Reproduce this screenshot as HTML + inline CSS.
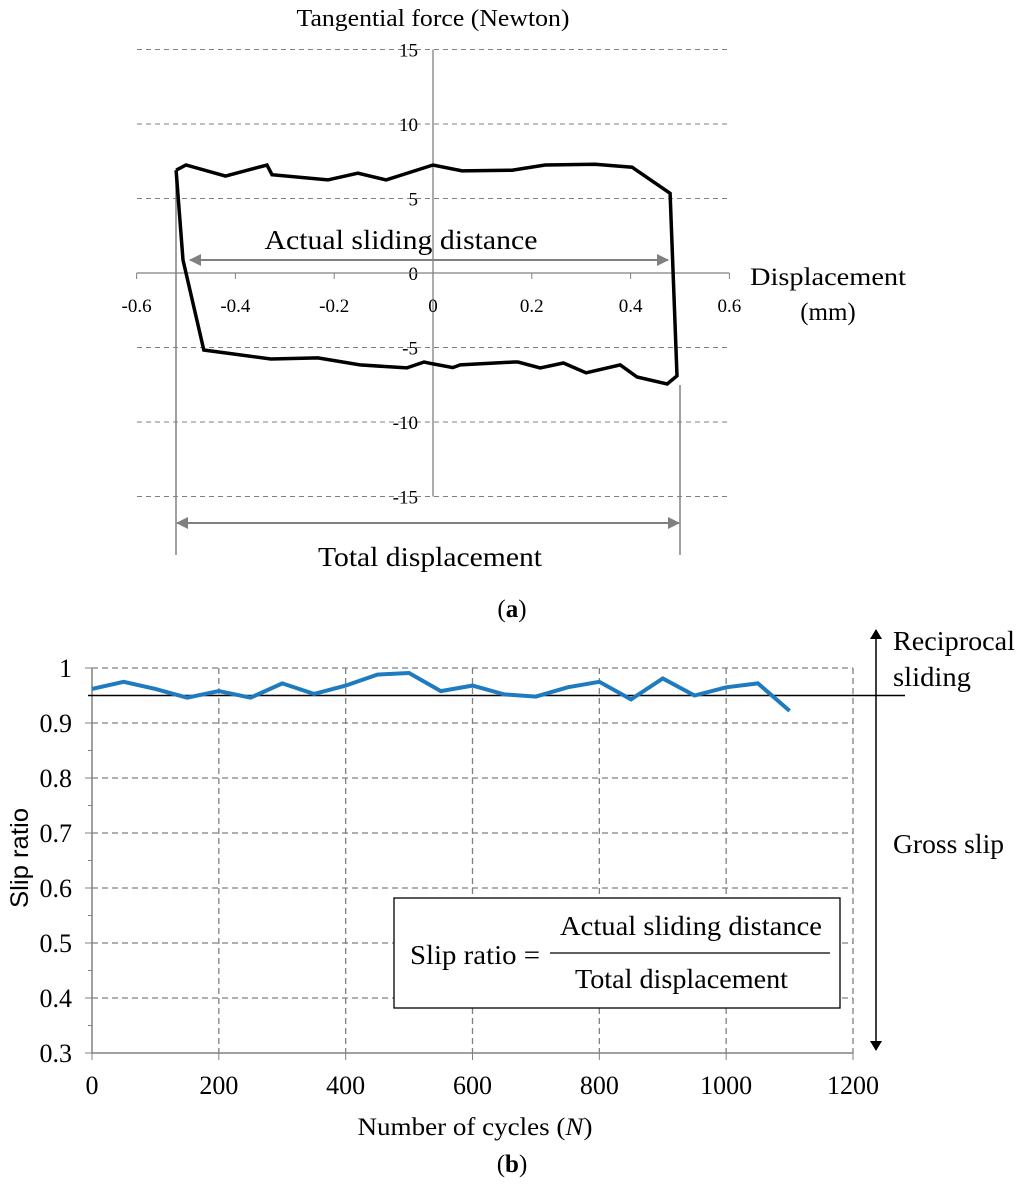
<!DOCTYPE html>
<html><head><meta charset="utf-8">
<style>
body{margin:0;background:#fff;}
svg{display:block;font-family:"Liberation Serif",serif;}
</style></head>
<body>
<svg id="chart" width="1024" height="1185" viewBox="0 0 1024 1185" xmlns="http://www.w3.org/2000/svg">
<defs>
<marker id="ga" markerWidth="12" markerHeight="12" refX="11" refY="6" orient="auto-start-reverse" markerUnits="userSpaceOnUse"><path d="M0,0 L12,6 L0,12 z" fill="#808080"/></marker>
<marker id="ka" markerWidth="10" markerHeight="12" refX="9" refY="6" orient="auto-start-reverse" markerUnits="userSpaceOnUse"><path d="M0,0 L10,6 L0,12 z" fill="#000"/></marker>
</defs>
<g id="a"></g>
<g id="b"></g>
</svg>
<script>
// ---- chart (a) data ----
const loopX = [-0.52,-0.50,-0.42,-0.336,-0.326,-0.213,-0.152,-0.095,0,0.059,0.16,0.227,0.328,0.403,0.48,0.494,0.474,0.413,0.379,0.31,0.264,0.217,0.172,0.164,0.055,0.04,0,-0.018,-0.053,-0.148,-0.233,-0.328,-0.464,-0.506,-0.52];
const loopY = [6.9,7.25,6.5,7.25,6.6,6.25,6.7,6.25,7.25,6.85,6.9,7.25,7.3,7.1,5.35,-6.9,-7.45,-6.98,-6.17,-6.7,-6.04,-6.37,-5.97,-5.97,-6.17,-6.35,-6.1,-5.97,-6.37,-6.17,-5.7,-5.77,-5.17,0.87,6.9];
const aXTicks = [-0.6,-0.4,-0.2,0,0.2,0.4,0.6];
const aYTicks = [15,10,5,0,-5,-10,-15];
// ---- chart (b) data ----
const cycles = [0,50,100,150,200,250,300,350,400,450,500,550,600,650,700,750,800,850,900,950,1000,1050,1100];
const slip = [0.962,0.975,0.962,0.946,0.958,0.946,0.972,0.953,0.968,0.988,0.991,0.958,0.968,0.952,0.948,0.965,0.975,0.943,0.981,0.950,0.965,0.972,0.922];
const bXTicks = [0,200,400,600,800,1000,1200];
const bYTicks = [1,0.9,0.8,0.7,0.6,0.5,0.4,0.3];
const threshold = 0.95;

const NS="http://www.w3.org/2000/svg";
function mk(parent,tag,attrs,text){const e=document.createElementNS(NS,tag);for(const k in attrs)e.setAttribute(k,attrs[k]);if(text!==undefined)e.textContent=text;parent.appendChild(e);return e;}
function fit(e,len){e.setAttribute('textLength',len);e.setAttribute('lengthAdjust','spacingAndGlyphs');}

// chart a
const ga=document.getElementById('a');
const ax=v=>433+v*494, ay=v=>273-v*14.9;
aYTicks.forEach(t=>{
  if(t!==0){const l=mk(ga,'line',{x1:137,x2:730,y1:ay(t),y2:ay(t),stroke:'#808080','stroke-dasharray':'5,4','stroke-width':1});
  
  }
  const tx=mk(ga,'text',{x:418,y:ay(t)+7,'text-anchor':'end','font-size':19},String(t));
  
  
});
let l=mk(ga,'line',{x1:433,x2:433,y1:ay(15),y2:ay(-15),stroke:'#808080','stroke-width':1.3});


l=mk(ga,'line',{x1:ax(-0.6),x2:ax(0.6),y1:273,y2:273,stroke:'#808080','stroke-width':1.3});


aXTicks.forEach(t=>{
  const tk=mk(ga,'line',{x1:ax(t),x2:ax(t),y1:273,y2:279,stroke:'#808080'});
  
  
  const tx=mk(ga,'text',{x:ax(t),y:312,'text-anchor':'middle','font-size':19},String(t));
  
  
});
let t=mk(ga,'text',{x:433,y:26,'text-anchor':'middle','font-size':24},'Tangential force (Newton)');
fit(t,273);


t=mk(ga,'text',{x:828,y:285,'text-anchor':'middle','font-size':25},'Displacement');
fit(t,156);


t=mk(ga,'text',{x:828,y:320,'text-anchor':'middle','font-size':25},'(mm)');


// guide lines
l=mk(ga,'line',{x1:176,x2:176,y1:170,y2:555,stroke:'#808080','stroke-width':1.5});


l=mk(ga,'line',{x1:680,x2:680,y1:385,y2:555,stroke:'#808080','stroke-width':1.5});


const pts=loopX.map((x,i)=>ax(x).toFixed(1)+','+ay(loopY[i]).toFixed(1)).join(' ');
const loop=mk(ga,'polyline',{points:pts,fill:'none',stroke:'#000','stroke-width':3.5,'stroke-linejoin':'miter'});


l=mk(ga,'line',{x1:190,x2:668,y1:260,y2:260,stroke:'#808080','stroke-width':2,'marker-start':'url(#ga)','marker-end':'url(#ga)'});


t=mk(ga,'text',{x:401,y:249,'text-anchor':'middle','font-size':27},'Actual sliding distance');
fit(t,273);


l=mk(ga,'line',{x1:177,x2:679,y1:523,y2:523,stroke:'#808080','stroke-width':2,'marker-start':'url(#ga)','marker-end':'url(#ga)'});


t=mk(ga,'text',{x:430,y:566,'text-anchor':'middle','font-size':27},'Total displacement');
fit(t,224);


t=mk(ga,'text',{x:512,y:617,'text-anchor':'middle','font-size':25},'');
t.innerHTML='(<tspan font-weight="bold">a</tspan>)';



// chart b
const gb=document.getElementById('b');
const bx=v=>92+v*(761/1200), by=v=>668+(1-v)*550;
bYTicks.forEach(v=>{
  if(v>0.3){const g=mk(gb,'line',{x1:92,x2:853,y1:by(v),y2:by(v),stroke:'#808080','stroke-dasharray':'6,4','stroke-width':1.3});
  
  }
  const tk=mk(gb,'line',{x1:85,x2:92,y1:by(v),y2:by(v),stroke:'#808080'});
  
  
  if(v>0.3){const mn=mk(gb,'line',{x1:88,x2:92,y1:by(v)+27.5,y2:by(v)+27.5,stroke:'#808080'});
  
  }
  const tx=mk(gb,'text',{x:72,y:by(v)+9,'text-anchor':'end','font-size':26},String(v));
  
  
});
bXTicks.forEach(v=>{
  if(v>0){const g=mk(gb,'line',{x1:bx(v),x2:bx(v),y1:668,y2:1053,stroke:'#808080','stroke-dasharray':'6,4','stroke-width':1.3});
  
  }
  const tk=mk(gb,'line',{x1:bx(v),x2:bx(v),y1:1053,y2:1060,stroke:'#808080'});
  
  
  const tx=mk(gb,'text',{x:bx(v),y:1094,'text-anchor':'middle','font-size':26},String(v));
  
  
});
l=mk(gb,'line',{x1:92,x2:92,y1:668,y2:1053,stroke:'#808080','stroke-width':1.5});


l=mk(gb,'line',{x1:92,x2:853,y1:1053,y2:1053,stroke:'#808080','stroke-width':1.5});


l=mk(gb,'line',{x1:88,x2:905,y1:by(threshold),y2:by(threshold),stroke:'#000','stroke-width':1.5});


const sp=cycles.map((c,i)=>bx(c).toFixed(1)+','+by(slip[i]).toFixed(1)).join(' ');
const sl=mk(gb,'polyline',{points:sp,fill:'none',stroke:'#1f7bc0','stroke-width':4});


l=mk(gb,'line',{x1:876,x2:876,y1:by(threshold),y2:630,stroke:'#000','stroke-width':1.5,'marker-end':'url(#ka)'});


l=mk(gb,'line',{x1:876,x2:876,y1:by(threshold),y2:1050,stroke:'#000','stroke-width':1.5,'marker-end':'url(#ka)'});


t=mk(gb,'text',{x:893,y:650,'font-size':27},'Reciprocal');
fit(t,122);


t=mk(gb,'text',{x:893,y:686,'font-size':27},'sliding');
fit(t,78);


t=mk(gb,'text',{x:893,y:853,'font-size':27},'Gross slip');
fit(t,111);


t=mk(gb,'text',{x:0,y:0,'text-anchor':'middle','font-size':25,transform:'translate(28,858) rotate(-90)',
 'font-family':'"Liberation Sans",sans-serif'},'Slip ratio');
fit(t,100);


t=mk(gb,'text',{x:475,y:1135,'text-anchor':'middle','font-size':25},'');
t.innerHTML='Number of cycles (<tspan font-style="italic">N</tspan>)';
fit(t,235);


t=mk(gb,'text',{x:512,y:1172,'text-anchor':'middle','font-size':25},'');
t.innerHTML='(<tspan font-weight="bold">b</tspan>)';


const box=mk(gb,'rect',{x:394,y:898,width:446,height:110,fill:'#fff',stroke:'#000','stroke-width':1.3});


t=mk(gb,'text',{x:410,y:964,'font-size':27},'Slip ratio =');
fit(t,130);


t=mk(gb,'text',{x:560,y:935,'font-size':27},'Actual sliding distance');
fit(t,262);


l=mk(gb,'line',{x1:550,x2:830,y1:953,y2:953,stroke:'#000','stroke-width':1.3});


t=mk(gb,'text',{x:575,y:988,'font-size':27},'Total displacement');
fit(t,213);


</script>
</body></html>
